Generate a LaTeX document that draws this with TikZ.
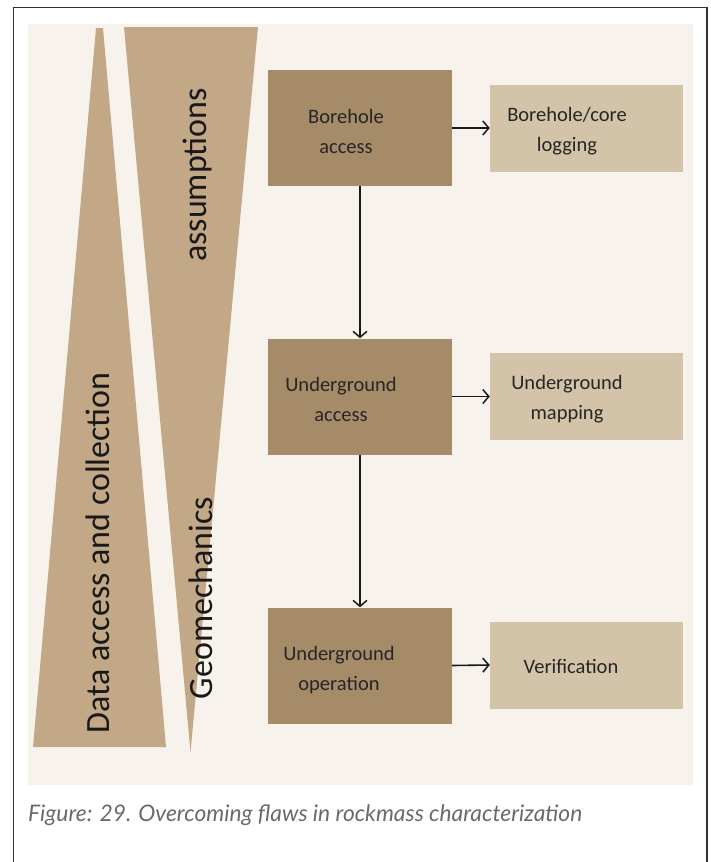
\documentclass[tikz,border=0pt]{standalone}
\usepackage{fontspec}
\setmainfont{Carlito}
\newfontfamily\capfont{Lato}
\usetikzlibrary{arrows.meta}
\definecolor{cream}{HTML}{F7F3EC}
\definecolor{tan}{HTML}{C2A887}
\definecolor{darkbox}{HTML}{A68B69}
\definecolor{lightbox}{HTML}{D3C3A9}
\definecolor{captxt}{HTML}{6A6A6A}
\tikzset{
  dbox/.style={fill=darkbox, draw=none, minimum width=184pt, minimum height=116pt, inner sep=0pt},
  lbox/.style={fill=lightbox, draw=none, minimum width=193pt, minimum height=87pt, inner sep=0pt},
  btxt/.style={align=center, font=\fontsize{20.5}{30}\selectfont, text=black!85, inner sep=0pt},
  vtxt/.style={rotate=90, font=\fontsize{34}{40}\selectfont, text=black!90, inner sep=0pt},
  arr/.style={draw=black!90, line width=1.6pt, -{Straight Barb[length=6pt,width=14pt,line width=1.5pt]}},
}
\begin{document}
\begin{tikzpicture}[x=1pt,y=-1pt]
\useasboundingbox (0,0) rectangle (710,862);
\fill[white] (0,0) rectangle (710,862);
\draw[line width=1.2pt, black!80] (13.5,870) -- (13.5,7.5) -- (707,7.5) -- (707,870);
\fill[cream] (28,24) rectangle (693,785);
% triangles
\fill[tan] (96,28) -- (103,28) -- (166,747) -- (33,747) -- cycle;
\fill[tan] (124,27) -- (258,27) -- (190.5,752) -- cycle;
\node[vtxt] (t1) at (98,553) {Data access and collection};
\node[vtxt] (t2) at (201,598) {Geomechanics};
\node[vtxt] (t3) at (197,175) {assumptions};
% boxes
\node[dbox] (b1) at (360,128) {};
\node[dbox] (b2) at (360,396.5) {};
\node[dbox] (b3) at (360,665.5) {};
\node[lbox] (l1) at (586.5,128) {};
\node[lbox] (l2) at (586.5,396.5) {};
\node[lbox] (l3) at (586.5,665) {};
\node[btxt] (b1t) at (346,131) {Borehole\\access};
\node[btxt] (b2t) at (341,399) {Underground\\access};
\node[btxt] (b3t) at (339,670) {Underground\\operation};
\node[btxt] (l1t) at (567,131) {Borehole/core\\logging};
\node[btxt] (l2t) at (567,399) {Underground\\mapping};
\node[btxt] (l3t) at (571,666) {Verification};
% arrows
\draw[arr] (b1.south) -- (b2.north);
\draw[arr] (b2.south) -- (b3.north);
\draw[arr] (b1.east) -- (l1.west);
\draw[arr] (b2.east) -- (l2.west);
\draw[arr] (b3.east) -- (l3.west);
% caption
\node[anchor=base west, inner sep=0pt, text=captxt, font=\capfont\itshape\fontsize{22.8}{26}\selectfont] (cap) at (28,821) {Figure: 29. Overcoming flaws in rockmass characterization};
\end{tikzpicture}
\end{document}
